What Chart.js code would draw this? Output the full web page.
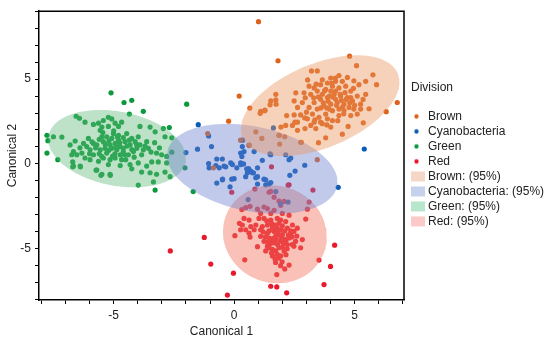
<!DOCTYPE html>
<html><head><meta charset="utf-8">
<script src="https://cdn.jsdelivr.net/npm/chart.js@4.4.1/dist/chart.umd.min.js"></script>
<style>html,body{margin:0;padding:0;background:#fff}#wrap{width:550px;height:340px;position:relative}</style>
</head><body><div id="wrap"><canvas id="c" width="550" height="340"></canvas></div>
<script>
const categories = ['Brown', 'Cyanobacteria', 'Green', 'Red'];
const ellipseLabels = ['Brown: (95%)', 'Cyanobacteria: (95%)', 'Green: (95%)', 'Red: (95%)'];
const xTickLabels = [-5, 0, 5];
const yTickLabels = [-5, 0, 5];

const brownPts = [
[1.01,8.38],[1.82,6.08],[4.79,6.35],[5.08,5.79],[3.21,5.48],[3.45,5.48],[5.76,5.25],[5.91,4.67],[6.77,3.62],[6.31,3.08],[5.36,2.42],[4.73,2.21],[4.49,1.75],[3.80,1.54],[3.50,1.25],[2.76,1.27],[1.73,4.10],[1.73,3.77],[1.49,3.48],[1.27,3.14],[1.08,2.98],[2.18,2.85],[2.56,4.19],[2.90,4.19],[2.49,3.71],[2.83,3.62],[2.63,3.33],[2.76,2.89],[2.49,2.89],[2.52,2.46],[2.42,2.27],[2.63,1.98],[2.14,2.27],[1.94,2.17],[1.87,1.69],[2.94,2.08],[3.18,2.27],[3.39,2.08],[3.66,2.37],[4.01,2.17],[4.08,2.56],[4.35,2.85],[4.84,2.85],[5.11,2.94],[5.25,3.52],[5.46,4.10],[5.46,4.87],[5.18,4.67],[4.97,4.90],[4.70,5.10],[4.35,5.21],[4.01,5.06],[3.66,4.96],[3.59,4.67],[3.32,4.48],[3.11,4.58],[3.18,4.10],[3.45,4.29],[3.80,4.39],[4.08,4.58],[4.35,4.48],[4.63,4.58],[4.84,4.29],[5.11,4.00],[4.91,3.71],[4.70,3.91],[4.42,4.00],[4.15,4.10],[3.87,3.91],[3.59,3.81],[3.32,3.62],[3.11,3.33],[3.45,3.23],[3.73,3.42],[4.01,3.52],[4.28,3.62],[4.56,3.52],[4.77,3.33],[4.97,3.23],[4.35,3.23],[4.08,3.14],[3.80,2.94],[3.52,2.75],[3.25,2.94],[3.04,2.66],[3.32,2.46],[3.59,2.46],[3.87,2.66],[4.56,3.14],[4.21,4.87],[3.87,4.77],[4.49,4.87],[4.84,3.91],[4.21,4.29],[4.01,4.29],[3.66,4.10],[3.94,3.23],[4.21,3.81],[5.25,3.23],[2.93,2.71],[2.63,2.46],
[3.90,3.70],[4.10,3.95],[4.45,3.75],[4.60,4.20],[3.70,3.60],[3.50,3.95],[4.25,3.45],[4.50,3.35],[3.95,4.00],[4.80,3.60],[3.30,3.90],[4.05,4.75],[3.75,4.30],[4.40,4.10],[3.60,3.30],[3.85,3.30],[4.65,3.80],[4.95,4.45],[3.40,4.70],[2.95,3.90],[3.00,3.05],[3.35,2.60],[4.30,2.55],[5.00,3.45],[4.55,2.95],[5.35,3.80],[5.60,3.25],[3.85,2.30],[4.20,5.05],[3.05,4.95],
[0.21,4.00],[0.65,3.29],[1.10,3.10],[1.28,3.17],[1.52,3.71],[1.74,3.52],
[-0.23,2.52],[-1.10,1.79],[0.27,1.40],[0.62,1.08],[0.90,1.89],[1.15,1.50],[1.86,1.69],[2.10,1.60],[1.89,1.17],[2.79,1.27],[3.45,0.25],[-0.86,-0.23]
];

const cyanoPts = [
[-1.49,2.31],[-1.06,1.65],[-2.00,0.67],[-1.52,0.87],[-0.94,1.02],[0.34,1.02],[0.27,0.64],[0.32,0.44],[0.41,0.73],[0.83,0.73],[-0.14,0.06],[-0.42,-0.13],[-0.72,0.29],[-0.49,0.29],[-1.06,0.02],[-0.76,-0.10],[-0.62,-0.23],[0.27,0.06],[0.39,0.00],[0.52,-0.29],[0.69,-0.42],[0.76,-0.52],[0.97,-0.23],[1.17,0.21],[0.48,-0.75],[0.90,-0.81],[0.97,-0.75],[1.31,-0.94],[-0.72,-1.13],[-0.49,-0.94],[-0.10,-0.90],[0.00,-0.87],[-0.17,-1.35],[0.11,-0.23],[0.97,-1.19],[1.52,-1.10],[2.28,0.25],[2.35,0.35],[2.31,-0.67],[2.53,-0.42],[2.93,-0.08],[4.32,-1.38],[1.63,2.12],[1.52,0.54],[2.14,0.54],[0.58,-2.10],[1.73,-1.63],[1.93,-2.35],[5.40,0.88],[0.35,1.40],[0.62,1.11],[-0.07,-0.04],[0.28,-0.04],[0.55,-0.52],[0.80,-0.52],[-0.48,-0.90],[1.24,-0.90],[1.45,-1.19],[-0.35,-0.17],[-1.04,-0.23],[1.49,0.59],[0.60,-0.27],[2.24,-2.25],[1.31,-1.23]
];

const greenPts = [
[-5.11,4.19],[-4.57,3.62],[-4.25,3.75],[-3.77,3.10],[-4.35,2.94],[-1.97,3.52],[-6.56,2.81],[-6.42,2.69],[-6.19,2.46],[-5.84,2.33],[-5.63,2.40],[-5.43,2.56],[-5.22,2.75],[-5.08,2.65],[-4.94,2.40],[-4.67,2.46],[-4.80,2.21],[-5.22,2.21],[-5.49,2.17],[-3.91,2.21],[-3.49,2.17],[-3.28,1.89],[-2.94,2.08],[-2.69,2.14],[-2.87,1.60],[-2.59,1.54],[-7.77,1.69],[-7.73,1.37],[-7.50,1.60],[-7.15,1.58],[-7.77,0.64],[-7.32,0.25],[-6.81,1.12],[-6.67,0.73],[-6.74,0.54],[-6.70,0.12],[-6.39,-0.13],[-6.67,-0.13],[-5.70,-0.36],[-5.49,-0.61],[-5.15,-0.61],[-4.73,-0.10],[-4.32,-0.04],[-4.25,-0.29],[-3.98,0.06],[-3.84,-0.48],[-3.63,-0.13],[-3.42,0.12],[-3.15,0.12],[-3.49,-0.52],[-3.22,-0.61],[-2.87,-0.48],[-2.66,-0.75],[-3.35,-1.06],[-3.98,-1.25],[-3.28,-1.54],[-2.80,0.44],[-2.59,0.69],[-3.01,0.54],[-3.22,0.64],[-2.80,0.06],
[-6.12,1.02],[-6.32,0.64],[-6.53,0.54],[-5.98,0.83],[-5.84,0.54],[-5.70,1.12],[-5.49,1.60],[-5.43,1.31],[-5.56,0.83],[-5.36,0.92],[-5.29,0.64],[-5.15,1.12],[-5.08,1.50],[-5.01,1.79],[-4.94,1.21],[-4.87,0.83],[-4.73,0.54],[-4.60,0.92],[-4.53,1.31],[-4.46,1.79],[-4.32,1.12],[-4.18,0.73],[-4.11,1.31],[-3.98,1.60],[-3.91,1.12],[-3.77,0.83],[-3.63,1.31],[-3.56,0.92],[-4.39,0.54],[-4.94,0.35],[-5.15,0.25],[-5.43,0.35],[-5.63,0.15],[-5.98,0.25],[-6.19,0.35],[-4.67,0.25],[-5.29,1.60],[-4.80,1.69],[-5.56,1.98],[-5.84,1.21],[-6.25,1.21],[-4.73,1.02],[-4.25,1.50],[-5.22,-0.04],[-4.60,0.73],[-5.08,0.92],[-4.80,1.40],[-6.05,1.50],[-4.04,0.92],[-3.84,0.54],
[-5.90,1.30],[-5.75,0.95],[-5.60,0.60],[-5.35,1.15],[-5.20,0.80],[-5.05,0.45],[-4.90,1.00],[-4.75,1.25],[-4.55,0.55],[-4.45,1.05],[-4.25,0.85],[-4.05,1.15],[-5.45,1.85],[-5.00,1.95],[-4.60,1.55],[-4.35,1.40],[-3.70,1.05],[-3.45,0.70],[-6.40,0.95],[-6.00,0.60],[-5.50,0.45],[-4.95,0.60],[-4.50,0.25],[-4.15,0.40],[-3.30,1.25],[-3.10,0.95],[-5.20,1.35],[-5.60,1.45],[-4.85,1.60],[-6.60,1.35],
[-1.70,-1.63],[-2.04,-0.23],[-5.14,-0.67],[-5.53,-0.67],[-5.73,-0.37],[-6.38,-0.17],[-6.70,-0.17]
];

const redPts = [
[-0.10,-1.67],[0.86,-1.48],[1.52,-1.62],[2.28,-1.23],[3.27,-1.54],[3.11,-2.25],[3.04,-2.67],[2.97,-3.25],[0.32,-2.69],[0.48,-2.58],[0.66,-2.50],[0.97,-2.67],[1.24,-2.54],[1.38,-2.63],[1.66,-2.73],[1.93,-2.44],[2.07,-2.21],[1.86,-2.19],[1.66,-1.96],[1.45,-1.67],[2.00,-2.92],[2.28,-3.02],[1.79,-3.21],[1.52,-3.31],[1.03,-3.21],[0.62,-3.31],[0.34,-3.60],[0.27,-3.88],[0.48,-3.88],[0.69,-3.69],[0.90,-3.60],[1.17,-3.69],[1.38,-3.60],[1.59,-3.69],[1.86,-3.50],[2.14,-3.40],[2.42,-3.60],[2.62,-3.79],[2.48,-3.98],[2.21,-3.79],[1.93,-3.88],[1.66,-3.98],[1.38,-4.08],[1.45,-4.37],[1.72,-4.27],[2.00,-4.17],[2.28,-4.37],[2.55,-4.56],[2.83,-4.46],[2.76,-4.94],[2.48,-4.85],[2.21,-4.75],[1.93,-4.56],[1.66,-4.65],[1.38,-4.85],[1.59,-5.04],[1.86,-4.94],[2.07,-5.13],[1.79,-5.33],[1.72,-5.81],[1.99,-5.77],[2.28,-5.96],[2.10,-6.19],[1.77,-6.52],[1.93,-5.42],[0.97,-4.88],[0.66,-4.31],[0.62,-4.08],[0.03,-4.23],[0.44,-5.65],[-0.03,-6.44],[-1.24,-4.33],[-2.65,-5.13],[-0.97,-5.90],[-0.28,-7.73],[1.52,-7.21],[1.77,-7.25],[2.18,-7.60],[3.52,-5.67],[4.00,-6.04],[4.17,-4.79],[3.73,-7.11],[1.10,-4.27],[1.24,-4.56],[1.10,-3.88],[1.52,-4.56],[1.79,-3.79],[2.14,-4.56],[2.35,-4.08],[1.24,-3.21],[1.93,-3.31],[0.83,-3.88],[1.59,-5.42],[1.72,-5.13],[1.93,-6.00],[2.41,-4.75],[1.31,-5.13],[0.41,-3.21],[0.22,-3.50],[1.10,-2.92],[1.52,-2.92],[1.55,-0.17],[2.24,-1.25],
[1.45,-3.95],[1.80,-4.05],[2.10,-3.95],[1.60,-4.40],[1.95,-4.35],[2.25,-4.20],[1.50,-4.70],[1.80,-4.75],[2.05,-4.70],[1.70,-3.60],[2.00,-3.65],[1.35,-3.35],[2.40,-4.30],[1.20,-4.00],[1.55,-5.25],[2.15,-5.35],[1.85,-5.55],[2.00,-4.90],[1.40,-4.60],[2.60,-4.25],
[1.60,-3.85],[1.75,-4.45],[2.10,-4.45],[1.30,-4.30],[1.85,-4.15],[2.20,-5.00],[1.45,-4.95],[1.70,-5.60],[2.35,-3.95],[1.55,-3.50]
];

// 95% ellipses: centre, half extent along x and y, phase (tilt) in degrees
const ellipseCenterX = [3.57, 0.75, -4.86, 1.69];
const ellipseCenterY = [3.43, -0.29, 0.90, -4.15];
const ellipseHalfX = [3.29, 3.54, 2.86, 2.155];
const ellipseHalfY = [2.97, 2.65, 2.28, 2.885];
const ellipsePhaseDeg = [62, 107, 104, 93];

const pointColors = ['#dd621c', '#0b5cb8', '#0a9a3c', '#e8192c'];
const ellipseColors = ['rgba(235,148,92,0.42)', 'rgba(108,128,205,0.42)', 'rgba(100,185,125,0.42)', 'rgba(242,118,95,0.45)'];
const swatchColors = ['#f6d6c6', '#c6d2ec', '#b8e6cc', '#fcc9c9'];
const FONT = "'Liberation Sans', Arial, Helvetica, sans-serif";

function ellipseData(i) {
  const out = [];
  const d = ellipsePhaseDeg[i] * Math.PI / 180;
  const n = 120;
  for (let k = 0; k <= n; k++) {
    const t = k / n * 2 * Math.PI;
    out.push({x: ellipseCenterX[i] + ellipseHalfX[i] * Math.cos(t), y: ellipseCenterY[i] + ellipseHalfY[i] * Math.cos(t - d)});
  }
  return out;
}

function dotIcon(color) {
  const c = document.createElement('canvas'); c.width = 18; c.height = 12;
  const g = c.getContext('2d'); g.fillStyle = color; g.beginPath(); g.arc(7.5, 6, 2.2, 0, Math.PI * 2); g.fill();
  return c;
}
function boxIcon(color) {
  const c = document.createElement('canvas'); c.width = 18; c.height = 12;
  const g = c.getContext('2d'); g.fillStyle = color; g.fillRect(0, 1, 16, 10);
  return c;
}

const seriesPts = [brownPts, cyanoPts, greenPts, redPts];
const datasets = [];
categories.forEach((name, i) => {
  datasets.push({
    type: 'scatter', label: name,
    data: seriesPts[i].map(p => ({x: p[0], y: p[1]})),
    backgroundColor: pointColors[i], borderWidth: 0, pointRadius: 2.6, pointHoverRadius: 2.6, order: 2
  });
});
categories.forEach((name, i) => {
  datasets.push({
    type: 'line', label: ellipseLabels[i],
    data: ellipseData(i), fill: 'shape', backgroundColor: ellipseColors[i],
    borderColor: 'rgba(0,0,0,0)', borderWidth: 0, pointRadius: 0, tension: 0, order: 1
  });
});
const legendIcons = [...pointColors.map(dotIcon), ...swatchColors.map(boxIcon)];

const framePlugin = {
  id: 'frame',
  afterDraw(chart) {
    const {ctx, chartArea: a} = chart;
    ctx.save(); ctx.strokeStyle = '#000'; ctx.lineWidth = 1.5;
    ctx.beginPath(); ctx.moveTo(a.left, a.top); ctx.lineTo(a.right, a.top); ctx.lineTo(a.right, a.bottom); ctx.stroke();
    ctx.restore();
  }
};

new Chart(document.getElementById('c'), {
  type: 'scatter',
  data: {datasets},
  options: {
    responsive: false, animation: false, devicePixelRatio: 1,
    layout: {padding: {top: 5, left: 0, right: 0, bottom: 0}},
    scales: {
      x: {
        type: 'linear', min: -8.1, max: 7.05,
        ticks: {stepSize: 1, includeBounds: false, autoSkip: false, maxRotation: 0, padding: 4, color: '#222', font: {family: FONT, size: 12},
          callback: v => xTickLabels.includes(v) ? String(v) : ''},
        grid: {display: true, drawOnChartArea: false, drawTicks: true, tickLength: 4, tickColor: '#000', tickWidth: 1},
        border: {display: true, color: '#000', width: 1.5},
        title: {display: true, text: 'Canonical 1', color: '#222', font: {family: FONT, size: 12}, padding: {top: 2, bottom: 1}},
        afterFit: s => { s.height = 40; }
      },
      y: {
        type: 'linear', min: -8.02, max: 9.0,
        ticks: {stepSize: 1, includeBounds: false, autoSkip: false, padding: 4, color: '#222', font: {family: FONT, size: 12},
          callback: v => yTickLabels.includes(v) ? String(v) : ''},
        grid: {display: true, drawOnChartArea: false, drawTicks: true, tickLength: 4, tickColor: '#000', tickWidth: 1},
        border: {display: true, color: '#000', width: 1.5},
        title: {display: true, text: 'Canonical 2', color: '#222', font: {family: FONT, size: 12}, padding: {top: 5, bottom: 2}},
        afterFit: s => { s.width = 39; }
      },
      gap: {
        type: 'linear', position: 'right', display: true,
        grid: {display: false}, border: {display: false}, ticks: {display: false},
        afterFit: s => { s.width = 7; }
      }
    },
    plugins: {
      tooltip: {enabled: false},
      legend: {
        position: 'right', align: 'start', maxWidth: 139,
        title: {display: true, position: 'start', text: 'Division', color: '#222', font: {family: FONT, size: 12}, padding: {top: 77, bottom: 11}},
        labels: {
          usePointStyle: true, pointStyleWidth: 8, padding: 3, color: '#222', font: {family: FONT, size: 12},
          generateLabels: chart => chart.data.datasets.map((ds, i) => ({
            text: ds.label, pointStyle: legendIcons[i], datasetIndex: i, hidden: false,
            fillStyle: 'rgba(0,0,0,0)', strokeStyle: 'rgba(0,0,0,0)', lineWidth: 0, fontColor: '#222'
          }))
        }
      }
    }
  },
  plugins: [framePlugin]
});
</script>
</body></html>
